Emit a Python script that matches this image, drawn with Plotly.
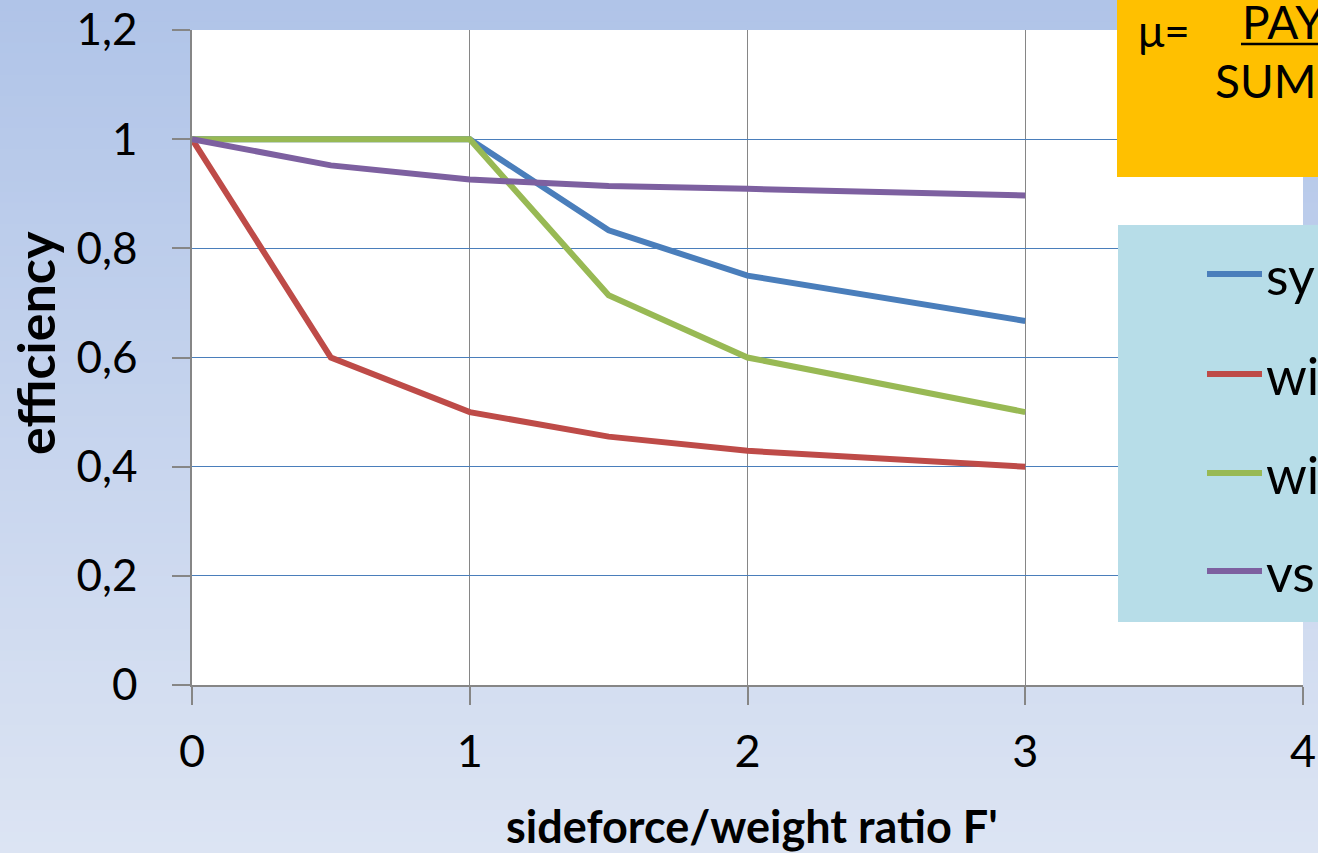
import plotly.graph_objects as go

# ---------------- data ----------------
x_sym = [0, 1, 1.5, 2, 3]
y_sym = [1.0, 1.0, 0.833, 0.75, 0.667]

x_red = [0, 0.5, 1, 1.5, 2, 3]
y_red = [1.0, 0.6, 0.5, 0.455, 0.429, 0.4]

x_green = [0, 1, 1.5, 2, 3]
y_green = [1.0, 1.0, 0.714, 0.6, 0.5]

x_purple = [0, 0.5, 1, 1.5, 2, 3]
y_purple = [1.0, 0.952, 0.926, 0.914, 0.909, 0.897]

series_names = ["sym", "wi", "wi", "vsr"]
series_colors = ["#4a7ebb", "#be4b48", "#98b954", "#7d60a0"]

x_tickvals = [0, 1, 2, 3, 4]
x_ticktext = ["0", "1", "2", "3", "4"]
y_tickvals = [0, 0.2, 0.4, 0.6, 0.8, 1.0, 1.2]
y_ticktext = ["0", "0,2", "0,4", "0,6", "0,8", "1", "1,2"]

# ---------------- layout geometry ----------------
W, H = 1318, 853
L, R, T, B = 192, 15, 30, 168
PW = W - L - R
PH = H - T - B


def px(p):
    return (p - L) / PW


def py(p):
    return (H - B - p) / PH


FONT = "Lato"

fig = go.Figure()
xs = [x_sym, x_red, x_green, x_purple]
ys = [y_sym, y_red, y_green, y_purple]
for xv, yv, name, col in zip(xs, ys, series_names, series_colors):
    fig.add_trace(go.Scatter(x=xv, y=yv, mode="lines", name=name,
                             line=dict(color=col, width=6),
                             showlegend=False))

shapes = []
# gradient background stripes
top = (176, 196, 232)
bot = (220, 228, 243)
N = 80
for i in range(N):
    t = i / (N - 1)
    c = tuple(round(top[k] + (bot[k] - top[k]) * t) for k in range(3))
    y0 = i * H / N
    y1 = (i + 1) * H / N + 1
    shapes.append(dict(type="rect", xref="paper", yref="paper",
                       x0=px(-5), x1=px(W + 5), y0=py(y1), y1=py(y0),
                       fillcolor="rgb(%d,%d,%d)" % c, line=dict(width=0),
                       layer="below"))
# white plot area
shapes.append(dict(type="rect", xref="paper", yref="paper", x0=0, x1=1, y0=0, y1=1,
                   fillcolor="white", line=dict(width=0), layer="below"))
# orange formula box
shapes.append(dict(type="rect", xref="paper", yref="paper",
                   x0=px(1117), x1=px(W + 10), y0=py(177), y1=py(-5),
                   fillcolor="#ffc000", line=dict(width=0), layer="above"))
# underline of PAY
shapes.append(dict(type="line", xref="paper", yref="paper",
                   x0=px(1241), x1=px(W + 10), y0=py(44), y1=py(44),
                   line=dict(color="black", width=2.5), layer="above"))
# legend box
shapes.append(dict(type="rect", xref="paper", yref="paper",
                   x0=px(1118), x1=px(W + 10), y0=py(622), y1=py(225),
                   fillcolor="#b7dde8", line=dict(width=0), layer="above"))

legend_y = [274, 374, 473, 571]
annotations = []
for yy, name, col in zip(legend_y, series_names, series_colors):
    shapes.append(dict(type="line", xref="paper", yref="paper",
                       x0=px(1207), x1=px(1262), y0=py(yy), y1=py(yy),
                       line=dict(color=col, width=6), layer="above"))
    annotations.append(dict(xref="paper", yref="paper", x=px(1264), y=py(yy + 1),
                            xanchor="left", yanchor="middle", text=name,
                            showarrow=False, font=dict(family=FONT, size=52, color="black")))

annotations += [
    dict(xref="paper", yref="paper", x=px(1136), y=py(30), xanchor="left", yanchor="middle",
         text="μ=", showarrow=False, font=dict(family=FONT, size=44, color="black")),
    dict(xref="paper", yref="paper", x=px(1240), y=py(22), xanchor="left", yanchor="middle",
         text="PAY", showarrow=False, font=dict(family=FONT, size=46, color="black")),
    dict(xref="paper", yref="paper", x=px(1213), y=py(80), xanchor="left", yanchor="middle",
         text="SUM", showarrow=False, font=dict(family=FONT, size=46, color="black")),
    dict(xref="paper", yref="paper", x=px(752), y=py(826), xanchor="center", yanchor="middle",
         text="<b>sideforce/weight ratio F'</b>", showarrow=False,
         font=dict(family=FONT, size=45, color="black")),
    dict(xref="paper", yref="paper", x=px(35), y=py(343), xanchor="center", yanchor="middle",
         text="<b>efficiency</b>", textangle=-90, showarrow=False,
         font=dict(family=FONT, size=52, color="black")),
]

fig.update_layout(
    width=W, height=H,
    margin=dict(l=L, r=R, t=T, b=B, autoexpand=False),
    paper_bgcolor="#c8d6ee",
    plot_bgcolor="white",
    showlegend=False,
    shapes=shapes,
    annotations=annotations,
    font=dict(family=FONT, color="black"),
)
fig.update_xaxes(range=[0, 4], tickvals=x_tickvals, ticktext=x_ticktext,
                 showgrid=True, gridcolor="#868686", gridwidth=1,
                 showline=True, linecolor="#868686", linewidth=1.5,
                 ticks="outside", ticklen=18, tickcolor="#868686", tickwidth=1.5,
                 tickfont=dict(family=FONT, size=45, color="black"),
                 ticklabelstandoff=8, zeroline=False)
fig.update_yaxes(range=[0, 1.2], tickvals=y_tickvals, ticktext=y_ticktext,
                 showgrid=True, gridcolor="#4a7ebb", gridwidth=1,
                 showline=True, linecolor="#868686", linewidth=1.5,
                 ticks="outside", ticklen=18, tickcolor="#868686", tickwidth=1.5,
                 tickfont=dict(family=FONT, size=44, color="black"),
                 ticklabelstandoff=26, zeroline=False)

fig.write_html("out.html")
